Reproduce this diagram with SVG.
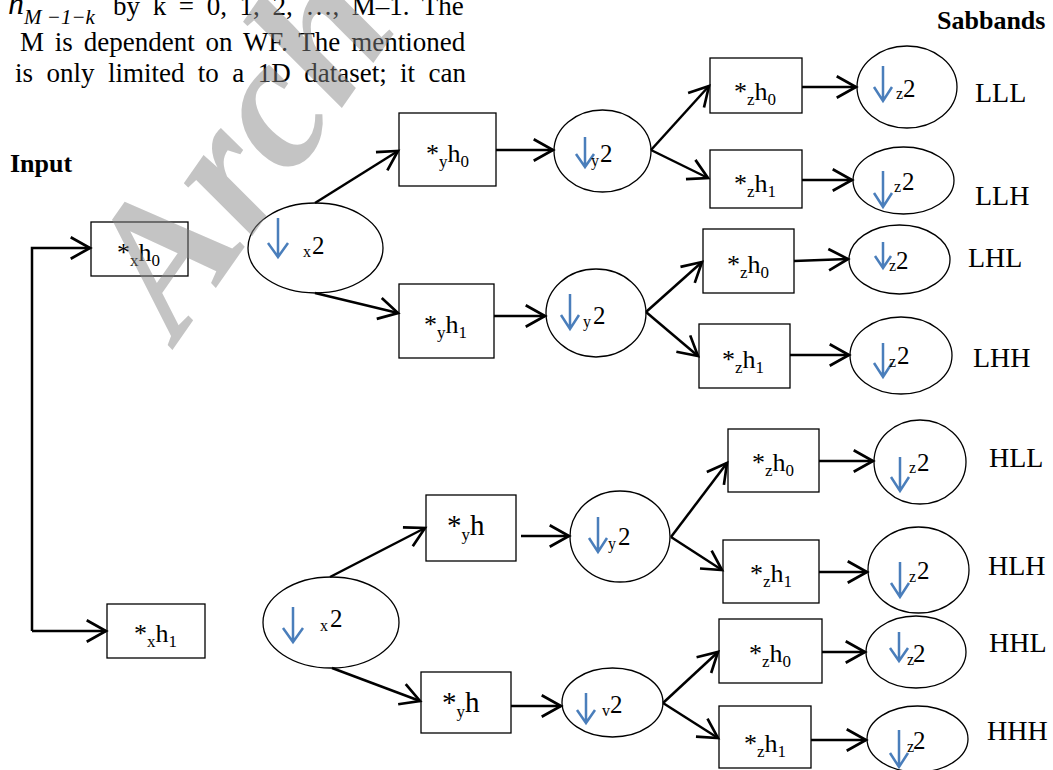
<svg xmlns="http://www.w3.org/2000/svg" width="1053" height="770" viewBox="0 0 1053 770">
<defs>
<style>
.t{font-family:"Liberation Serif","Times New Roman",serif;fill:#000}
.body{font-size:27px}
.bold{font-size:26px;font-weight:bold}
.lab{font-size:28px}
.bl{font-size:26px}
.bly{font-size:29px}
.s{font-size:17px}
.e2{font-size:25px}
.es{font-size:16px}
.box{fill:none;stroke:#000;stroke-width:1.3}
.ell{fill:none;stroke:#000;stroke-width:1.3}
.c{fill:none;stroke:#000;stroke-width:2.5;marker-end:url(#ah)}
.blue{fill:none;stroke:#4A7EBB;stroke-width:2.5}
.wm{font-family:"Liberation Serif","Times New Roman",serif;font-weight:bold;font-style:italic;font-size:188px;fill:#858585;opacity:0.48}
</style>
<marker id="ah" markerUnits="userSpaceOnUse" markerWidth="30" markerHeight="30" viewBox="-24 -14 28 28" refX="0" refY="0" orient="auto">
<path d="M-18,-10 L0,0 L-18,10" fill="none" stroke="#000" stroke-width="2.5"/>
</marker>
<filter id="sh" x="-20%" y="-200%" width="140%" height="500%">
<feDropShadow dx="0" dy="3" stdDeviation="2" flood-color="#000" flood-opacity="0.35"/>
</filter>
</defs>
<rect width="1053" height="770" fill="#fff"/>

<g id="bodytext" class="t body">
<text x="8" y="14" font-style="italic" font-size="32">h<tspan font-size="21" dy="10">M −1−k</tspan></text>
<text x="113" y="15" word-spacing="5.9">by k = 0, 1, 2, …, M–1. The</text>
<text x="20" y="51" word-spacing="4.1">M is dependent on WF. The mentioned</text>
<text x="15" y="82" word-spacing="6.7">is only limited to a 1D dataset; it can</text>
</g>

<g id="headings" class="t bold">
<text x="10" y="172">Input</text>
<text x="937" y="29">Sabbands</text>
</g>

<g id="connectors">
<path class="c" d="M32,631 V248 H90"/>
<path class="c" d="M32,631 H106"/>
<path class="c" d="M188,248 H247" filter="url(#sh)"/>
<path class="c" d="M205,632 H262" filter="url(#sh)"/>
<path class="c" d="M315,203 L398,151"/>
<path class="c" d="M315,293 L398,313"/>
<path class="c" d="M496,150 H553"/>
<path class="c" d="M494,316 H545"/>
<path class="c" d="M651,150 L709,86"/>
<path class="c" d="M651,150 L708,178"/>
<path class="c" d="M646,312 L702,262"/>
<path class="c" d="M646,312 L698,356"/>
<path class="c" d="M802,87 H856"/>
<path class="c" d="M802,180 H852"/>
<path class="c" d="M794,261 L848,259"/>
<path class="c" d="M790,355 H849"/>
<path class="c" d="M330,577 L425,528"/>
<path class="c" d="M332,668 L420,701"/>
<path class="c" d="M521,536 H569"/>
<path class="c" d="M511,706 H561"/>
<path class="c" d="M671,537 L727,463"/>
<path class="c" d="M671,537 L722,570"/>
<path class="c" d="M663,703 L718,652"/>
<path class="c" d="M663,703 L718,738"/>
<path class="c" d="M819,461 H873"/>
<path class="c" d="M819,572 H867"/>
<path class="c" d="M822,652 H865"/>
<path class="c" d="M811,740 H866"/>
</g>

<g id="n-xh0"><rect class="box" x="91" y="222" width="97" height="54"/>
<text class="t bl" x="117" y="261">*<tspan class="s" dy="5">x</tspan><tspan dy="-5">h</tspan><tspan class="s" dy="5">0</tspan></text></g>
<g id="n-xh1"><rect class="box" x="107" y="604" width="98" height="54"/>
<text class="t bl" x="134" y="642">*<tspan class="s" dy="5">x</tspan><tspan dy="-5">h</tspan><tspan class="s" dy="5">1</tspan></text></g>
<g id="n-yh0"><rect class="box" x="399" y="113" width="97" height="73"/>
<text class="t bl" x="426" y="162">*<tspan class="s" dy="5">y</tspan><tspan dy="-5">h</tspan><tspan class="s" dy="5">0</tspan></text></g>
<g id="n-yh1"><rect class="box" x="399" y="284" width="95" height="74"/>
<text class="t bl" x="424" y="333">*<tspan class="s" dy="5">y</tspan><tspan dy="-5">h</tspan><tspan class="s" dy="5">1</tspan></text></g>
<g id="n-yh-a"><rect class="box" x="426" y="495" width="90" height="66"/>
<text class="t bly" x="447" y="535">*<tspan class="s" font-size="20" dy="5">y</tspan><tspan dy="-5">h</tspan></text></g>
<g id="n-yh-b"><rect class="box" x="421" y="672" width="90" height="61"/>
<text class="t bly" x="442" y="712">*<tspan class="s" font-size="20" dy="5">y</tspan><tspan dy="-5">h</tspan></text></g>
<g id="n-zh0-lll"><rect class="box" x="710" y="58" width="92" height="55"/>
<text class="t bl" x="734" y="100">*<tspan class="s" dy="5">z</tspan><tspan dy="-5">h</tspan><tspan class="s" dy="5">0</tspan></text></g>
<g id="n-zh1-llh"><rect class="box" x="710" y="150" width="92" height="58"/>
<text class="t bl" x="734" y="192">*<tspan class="s" dy="5">z</tspan><tspan dy="-5">h</tspan><tspan class="s" dy="5">1</tspan></text></g>
<g id="n-zh0-lhl"><rect class="box" x="703" y="229" width="91" height="64"/>
<text class="t bl" x="727" y="273">*<tspan class="s" dy="5">z</tspan><tspan dy="-5">h</tspan><tspan class="s" dy="5">0</tspan></text></g>
<g id="n-zh1-lhh"><rect class="box" x="699" y="324" width="91" height="64"/>
<text class="t bl" x="722" y="368">*<tspan class="s" dy="5">z</tspan><tspan dy="-5">h</tspan><tspan class="s" dy="5">1</tspan></text></g>
<g id="n-zh0-hll"><rect class="box" x="728" y="429" width="91" height="63"/>
<text class="t bl" x="752" y="471">*<tspan class="s" dy="5">z</tspan><tspan dy="-5">h</tspan><tspan class="s" dy="5">0</tspan></text></g>
<g id="n-zh1-hlh"><rect class="box" x="723" y="540" width="96" height="63"/>
<text class="t bl" x="750" y="582">*<tspan class="s" dy="5">z</tspan><tspan dy="-5">h</tspan><tspan class="s" dy="5">1</tspan></text></g>
<g id="n-zh0-hhl"><rect class="box" x="719" y="619" width="103" height="64"/>
<text class="t bl" x="749" y="662">*<tspan class="s" dy="5">z</tspan><tspan dy="-5">h</tspan><tspan class="s" dy="5">0</tspan></text></g>
<g id="n-zh1-hhh"><rect class="box" x="719" y="706" width="92" height="62"/>
<text class="t bl" x="744" y="752">*<tspan class="s" dy="5">z</tspan><tspan dy="-5">h</tspan><tspan class="s" dy="5">1</tspan></text></g>

<g id="d-x-a"><ellipse class="ell" cx="315.5" cy="248" rx="67.5" ry="45"/>
<path class="blue" d="M278,218 V257 M268,243 L278,257 L288,243"/>
<text class="t es" x="303" y="257">x</text><text class="t e2" x="312" y="254">2</text></g>
<g id="d-x-b"><ellipse class="ell" cx="331" cy="622.5" rx="68" ry="45.5"/>
<path class="blue" d="M293,607 V642 M283,628 L293,642 L303,628"/>
<text class="t es" x="320" y="631">x</text><text class="t e2" x="330" y="627">2</text></g>
<g id="d-y-a"><ellipse class="ell" cx="602.5" cy="151" rx="48.5" ry="41"/>
<path class="blue" d="M585,137 V167 M576,154 L585,167 L594,154"/>
<text class="t es" x="591" y="166">y</text><text class="t e2" x="600" y="162">2</text></g>
<g id="d-y-b"><ellipse class="ell" cx="596" cy="313" rx="50" ry="44"/>
<path class="blue" d="M570,294 V329 M561,315 L570,329 L579,315"/>
<text class="t es" x="583" y="327">y</text><text class="t e2" x="593" y="324">2</text></g>
<g id="d-y-c"><ellipse class="ell" cx="620" cy="536.5" rx="50" ry="45.5"/>
<path class="blue" d="M598,517 V552 M589,538 L598,552 L607,538"/>
<text class="t es" x="608" y="549">y</text><text class="t e2" x="618" y="545">2</text></g>
<g id="d-y-d"><ellipse class="ell" cx="612.5" cy="702.5" rx="50.5" ry="34.5"/>
<path class="blue" d="M586,693 V723 M577,710 L586,723 L595,710"/>
<text class="t es" x="602" y="716">v</text><text class="t e2" x="610" y="713">2</text></g>
<g id="d-z-lll"><ellipse class="ell" cx="907" cy="87" rx="50" ry="41"/>
<path class="blue" d="M883,66 V101 M874,87 L883,101 L892,87"/>
<text class="t es" x="896" y="99">z</text><text class="t e2" x="903" y="97">2</text></g>
<g id="d-z-llh"><ellipse class="ell" cx="903.5" cy="180.5" rx="50.5" ry="33.5"/>
<path class="blue" d="M883,171 V207 M874,193 L883,207 L892,193"/>
<text class="t es" x="894" y="192">z</text><text class="t e2" x="902" y="190">2</text></g>
<g id="d-z-lhl"><ellipse class="ell" cx="899.5" cy="259.5" rx="50.5" ry="34.5"/>
<path class="blue" d="M883,242 V268 M875,256 L883,268 L891,256"/>
<text class="t es" x="889" y="271">z</text><text class="t e2" x="896" y="269">2</text></g>
<g id="d-z-lhh"><ellipse class="ell" cx="901" cy="355.5" rx="51" ry="38.5"/>
<path class="blue" d="M883,343 V377 M874,363 L883,377 L892,363"/>
<text class="t es" x="889" y="367">z</text><text class="t e2" x="897" y="364">2</text></g>
<g id="d-z-hll"><ellipse class="ell" cx="920" cy="462" rx="46" ry="42"/>
<path class="blue" d="M900,457 V491 M891,477 L900,491 L909,477"/>
<text class="t es" x="909" y="473">z</text><text class="t e2" x="917" y="471">2</text></g>
<g id="d-z-hlh"><ellipse class="ell" cx="918.5" cy="570" rx="50.5" ry="43"/>
<path class="blue" d="M900,562 V597 M891,583 L900,597 L909,583"/>
<text class="t es" x="909" y="582">z</text><text class="t e2" x="917" y="579">2</text></g>
<g id="d-z-hhl"><ellipse class="ell" cx="916" cy="652" rx="50" ry="36"/>
<path class="blue" d="M899,632 V661 M890,648 L899,661 L908,648"/>
<text class="t es" x="907" y="665">z</text><text class="t e2" x="913" y="662">2</text></g>
<g id="d-z-hhh"><ellipse class="ell" cx="917.5" cy="739" rx="50.5" ry="33"/>
<path class="blue" d="M899,730 V767 M890,753 L899,767 L908,753"/>
<text class="t es" x="907" y="752">z</text><text class="t e2" x="913" y="749">2</text></g>

<g id="subbands" class="t lab">
<text x="975" y="102">LLL</text>
<text x="975" y="205">LLH</text>
<text x="968" y="267">LHL</text>
<text x="973" y="367">LHH</text>
<text x="989" y="467">HLL</text>
<text x="988" y="575">HLH</text>
<text x="989" y="652">HHL</text>
<text x="987" y="740">HHH</text>
</g>

<g id="watermark">
<text class="wm" transform="translate(178,342) rotate(-55)">Arch</text>
</g>
</svg>
